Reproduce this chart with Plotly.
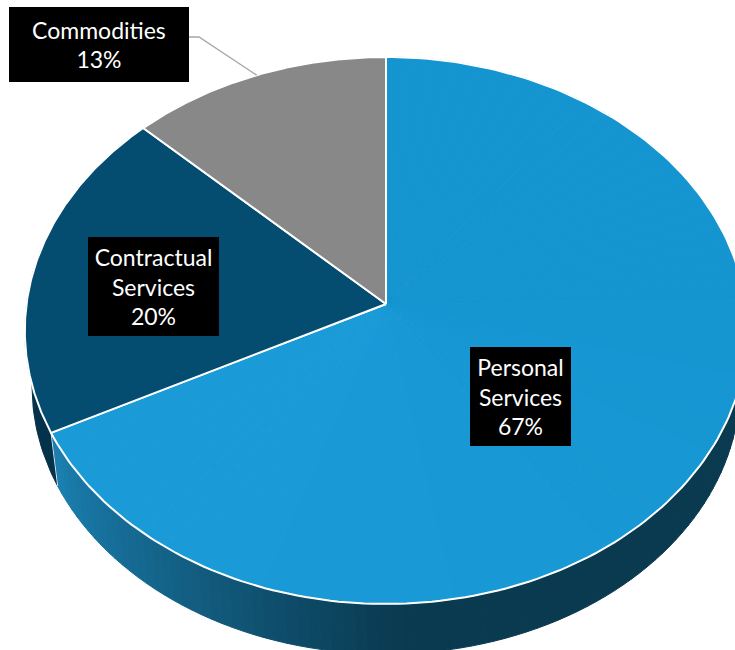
import numpy as np
import plotly.graph_objects as go

# --- data ---
categories = ["Personal<br>Services", "Contractual<br>Services", "Commodities"]
values = [67.49, 19.7, 12.81]
slice_colors = ["#1897d4", "#044d71", "#888888"]
personal_shades = ["#1595d0", "#1a9bd8"]
wall_colors = ["#1a7fb0", "#0a3a50", "#04324a"]

# --- geometry of the tilted disc, in page pixels ---
CX, CY = 386, 304
KX, KY, P = 359.5, 270.9, -0.0969
DEPTH = 56
WALL_SCALE = 0.98
label_boxes = [(470, 571, 347, 446), (88, 219, 237, 336), (9, 189, 7, 82)]


def project(theta, r=1.0, depth=0.0, scale=1.0):
    """Clockwise angle from 12 o'clock on the unit disc -> projected point."""
    u, v = r * np.sin(theta), -r * np.cos(theta)
    w = 1 + P * v
    return CX + scale * KX * u / w, CY + depth + scale * KY * v / w


total = sum(values)
edges = np.cumsum([0] + values) / total * 2 * np.pi

fig = go.Figure()


def poly(x, y, fill, line=None, lw=1.0):
    fig.add_trace(go.Scatter(x=x, y=y, mode="lines", fill="toself", fillcolor=fill,
                             line=dict(color=line or fill, width=lw),
                             hoverinfo="skip", showlegend=False))


def mix(a, b, t):
    a = [int(a[i:i + 2], 16) for i in (1, 3, 5)]
    b = [int(b[i:i + 2], 16) for i in (1, 3, 5)]
    return "rgb(%d,%d,%d)" % tuple(round(p + (q - p) * t) for p, q in zip(a, b))


def fan(t_start, t_end, shades, steps, shade_from, shade_to):
    """Shaded fill of a slice: narrow sectors that change colour with the angle."""
    ts = np.linspace(t_start, t_end, steps + 1)
    for a, b in zip(ts[:-1], ts[1:]):
        x, y = project(np.linspace(a, b, 6))
        f = np.clip(((a + b) / 2 - shade_from) / (shade_to - shade_from), 0, 1)
        poly(np.r_[CX, x, CX], np.r_[CY, y, CY], mix(shades[0], shades[1], f))


# side wall strips
strips = np.linspace(np.pi / 2, edges[1], 90)
for t0, t1 in zip(strips[:-1], strips[1:]):
    tt = np.array([t0, t1])
    xa, ya = project(tt)
    xb, yb = project(tt[::-1], depth=DEPTH, scale=WALL_SCALE)
    xm = (xa.mean() + xb.mean()) / 2
    f = np.clip((xm - 60) / (400 - 60), 0, 1) ** 0.75
    poly(np.r_[xa, xb, xa[0]], np.r_[ya, yb, ya[0]], mix(wall_colors[0], wall_colors[1], f))

# contractual part of the wall
tt = np.linspace(edges[1], 3 * np.pi / 2 + 0.25, 40)
xa, ya = project(tt)
xb, yb = project(tt[::-1], depth=DEPTH, scale=WALL_SCALE)
poly(np.r_[xa, xb, xa[0]], np.r_[ya, yb, ya[0]], wall_colors[2])

# wall seam
x0, y0 = project(edges[1])
x1, y1 = project(edges[1], depth=DEPTH, scale=WALL_SCALE)
fig.add_trace(go.Scatter(x=[x0, x1], y=[y0, y1], mode="lines",
                         line=dict(color="#cfe3ee", width=1), hoverinfo="skip", showlegend=False))

# shaded personal slice
fan(edges[0], edges[1], personal_shades, 60, np.radians(80), np.radians(210))
# slice outlines and the plain slices
for i, color in enumerate(slice_colors):
    tt = np.linspace(edges[i], edges[i + 1], 200)
    x, y = project(tt)
    fill = "rgba(0,0,0,0)" if i == 0 else color
    poly(np.r_[CX, x, CX], np.r_[CY, y, CY], fill, "#ffffff", 2)

# leader line to the middle of the commodities arc
xm, ym = project((edges[2] + edges[3]) / 2)
fig.add_trace(go.Scatter(x=[189, 199, xm], y=[37, 37, ym], mode="lines",
                         line=dict(color="#a6a6a6", width=1.3), hoverinfo="skip", showlegend=False))

# labels
for cat, val, (x0, x1, y0, y1) in zip(categories, values, label_boxes):
    fig.add_annotation(x=(x0 + x1) / 2, y=(y0 + y1) / 2, xref="x", yref="y", showarrow=False,
                       text=f"{cat}<br>{round(val)}%", width=x1 - x0, height=y1 - y0,
                       bgcolor="#000000", borderpad=0, borderwidth=0, align="center", valign="middle",
                       font=dict(family="Lato", size=23, color="#ffffff"))

fig.update_layout(width=735, height=650, margin=dict(l=0, r=0, t=0, b=0),
                  paper_bgcolor="#ffffff", plot_bgcolor="#ffffff", showlegend=False,
                  xaxis=dict(range=[0, 735], visible=False),
                  yaxis=dict(range=[650, 0], visible=False))
fig.write_html("out.html", config={"displayModeBar": False},
               post_script="document.body.style.margin='0';document.body.style.overflow='hidden';")
